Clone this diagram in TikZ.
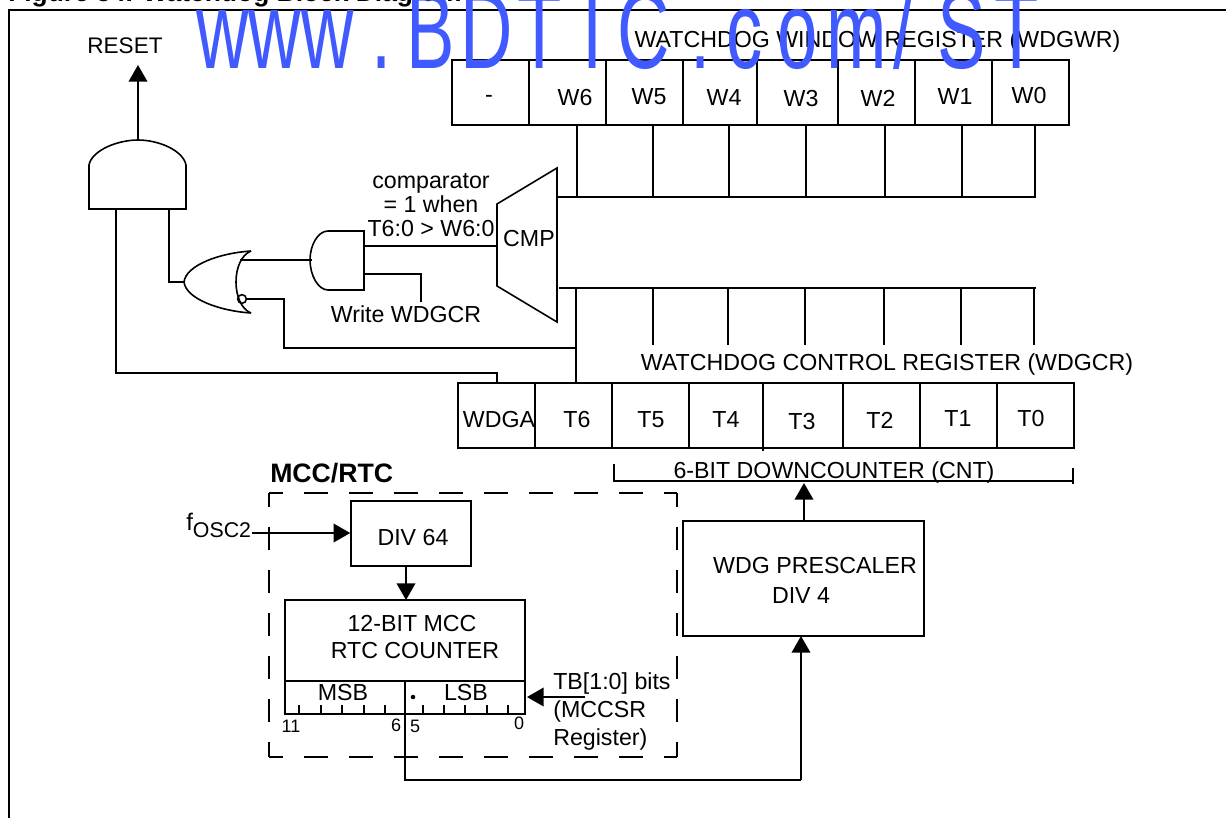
\documentclass[tikz,border=0pt]{standalone}
\usepackage{fontspec}
\setmainfont{Liberation Sans}
\usetikzlibrary{arrows.meta}
\definecolor{wm}{RGB}{64,90,255}
\newcommand\kk[1]{\kern\dimexpr #1pt*1103/1000\relax}
\tikzset{
  ln/.style={line width=1.2pt,line cap=butt,line join=miter},
  lbl/.style={inner sep=0pt,font=\fontsize{17.4pt}{20pt}\selectfont,align=center},
  tiny/.style={inner sep=0pt,font=\fontsize{13.5pt}{16pt}\selectfont},
  arr/.style={ln,-{Triangle[length=12.5pt,width=14pt]}},
  boxn/.style={ln,draw,inner sep=0pt},
  dashh/.style={ln,dash pattern=on 18pt off 15.75pt,dash phase=7.5pt},
  dashv/.style={ln,dash pattern=on 17.25pt off 15pt,dash phase=6.75pt},
}
\begin{document}
\begin{tikzpicture}[x=0.75pt,y=-0.75pt]
\useasboundingbox (0,0) rectangle (1226,818);
\clip (0,0) rectangle (1226,818);
\node[anchor=base west,inner sep=0pt,font=\bfseries\fontsize{19.8pt}{22pt}\selectfont] (title) at (8,1.5) {Figure 54. Watchdog Block Diagram};
\draw[ln] (9,818) -- (9,10) -- (1226,10);
% labels
\node[lbl,font=\fontsize{16.9pt}{20pt}\selectfont] (resetl) at (125,46) {RESET};
\node[lbl] (wwrl) at (877.5,41) {WATCHDOG WINDOW REGISTER (WDGWR)};
\node[lbl] (wcrl) at (887,364) {WATCHDOG CONTROL REGISTER (WDGCR)};
% window register
\draw[ln] (452,60) rectangle (1069,125);
\foreach \x in {529,606,683,757,838,915,992} \draw[ln] (\x,60) -- (\x,125);
\foreach \t/\x/\y in {-/489/99,W6/575/98,W5/649/97,W4/724/98,W3/801/99,W2/878/98,W1/955/97,W0/1029/96}
  \node[lbl] at (\x,\y) {\t};
\foreach \x in {577,653,729,806,885,962,1035} \draw[ln] (\x,125) -- (\x,198);
\draw[ln] (558,197) -- (1035,197);
% CMP
\coordinate (cmpTL) at (497,204);
\coordinate (cmpTR) at (557,168);
\coordinate (cmpBR) at (557,322);
\coordinate (cmpBL) at (497,286);
\coordinate (cmpIn) at (497,246);
\draw[ln] (cmpTL) -- (cmpTR) -- (cmpBR) -- (cmpBL) -- cycle;
\node[lbl] (cmp) at (529,239) {CMP};
\node[lbl] (cmpnote) at (431,205) {comparator\\[-2pt]= 1 when\\[-2pt]T6:0 > W6:0};
\draw[ln] (559,288) -- (1036,288);
\foreach \x in {653,728,805,884,961,1034} \draw[ln] (\x,288) -- (\x,345);
\draw[ln] (576,288) -- (576,383);
% control register
\draw[ln] (458,383) rectangle (1074,448);
\foreach \x in {535,612,689,843,920,997} \draw[ln] (\x,383) -- (\x,448);
\draw[ln] (763,383) -- (763,451);
\foreach \t/\x/\y in {WDGA/499/420,T6/577/420,T5/651/420,T4/726/420,T3/802/422,T2/880/420,T1/958/419,T0/1031/419}
  \node[lbl] at (\x,\y) {\t};
% downcounter bracket
\node[lbl] (cnt) at (834,472) {6-BIT DOWNCOUNTER (CNT)};
\draw[ln] (614,464) -- (614,481) -- (1073,481);
\draw[ln] (1073,468) -- (1073,484);
% reset AND gate
\coordinate (andTop) at (138,140);
\draw[ln] (89,209) -- (89,165) .. controls (92,150) and (118,140) .. (andTop) .. controls (158,140) and (183,150) .. (186,165) -- (186,209) -- cycle;
\coordinate (resetTip) at (138,65);
\draw[arr] (andTop) -- (resetTip);
% NOR gate
\coordinate (norIn) at (184,282);
\draw[ln] (251,251) .. controls (220,253) and (186,265) .. (norIn) .. controls (186,299) and (220,311) .. (251,313);
\draw[ln] (251,251) .. controls (231,259) and (231,305) .. (251,313);
\node[draw,circle,ln,minimum size=6.5pt,inner sep=0pt] (bub) at (242,299) {};
% small AND gate
\draw[ln] (328,231) -- (364,231) -- (364,290) -- (328,290) .. controls (318,290) and (310,275) .. (310,260) .. controls (310,245) and (318,231) .. (328,231);
\coordinate (wrEnd) at (421,302);
% wires
\draw[ln] (240,260) -- (312,260);
\draw[ln] (364,246) -- (cmpIn);
\draw[ln] (364,274) -| (wrEnd);
\node[lbl] (wrl) at (406,314) {Write WDGCR};
\draw[ln] (bub.east) -- (284,299) |- (576,348);
\draw[ln] (169,209) |- (norIn);
\draw[ln] (116,209) -- (116,373);
\draw[ln] (115,373) -| (497,383);
% MCC/RTC
\node[anchor=west,inner sep=0pt,font=\bfseries\fontsize{20pt}{22pt}\selectfont] (mcc) at (270,473) {MCC/RTC};
\draw[dashh] (269,493) -- (677,493);
\draw[dashh] (269,757) -- (677,757);
\draw[dashv] (269,493) -- (269,757);
\draw[dashv] (677,493) -- (677,757);
\node[anchor=base west,inner sep=0pt,font=\fontsize{18pt}{20pt}\selectfont] (fosc) at (186,530) {f\raisebox{-5.25pt}{\fontsize{16pt}{18pt}\selectfont OSC2}};
\node[boxn,minimum width=90pt,minimum height=48.75pt] (div) at (411,533.5) {};
\node[lbl] at (413,538) {DIV 64};
\node[boxn,minimum width=180pt,minimum height=85.5pt] (ctr) at (405,657) {};
\node[lbl] at (412,623) {12-BIT MCC};
\node[lbl] at (415,650) {RTC COUNTER};
\draw[ln] (285,681) -- (525,681);
\draw[ln] (405,681) -- (405,780) -- (801,780);
\foreach \x in {299,321,342,364,385,423,444,465,487,508} \draw[ln,line width=0.9pt] (\x,714) -- (\x,705);
\node[lbl] at (343,692) {MSB};
\node[lbl] at (466,692) {LSB};
\fill (413,697) circle (1.7pt);
\node[tiny] at (291,726) {11};
\node[tiny] at (396,725) {6};
\node[tiny] at (415,726) {5};
\node[tiny] at (519,723) {0};
\node[lbl,align=left,anchor=north west] (tb) at (553,672.5) {TB[1:0] bits\\[1pt](MCCSR\\[1pt]Register)};
\coordinate (tbTail) at (585,697);
\coordinate (tbTip) at (527,697);
\draw[arr] (tbTail) -- (tbTip);
\draw[arr] (252,533) -- (div.west |- 0,533);
\coordinate (divOut) at (406,566);
\coordinate (ctrIn) at (406,600);
\draw[arr] (divOut) -- (ctrIn);
% prescaler
\node[boxn,minimum width=180.75pt,minimum height=86.25pt] (pre) at (803.5,578.5) {};
\node[lbl] at (815,566) {WDG PRESCALER};
\node[lbl] at (801,596) {DIV 4};
\coordinate (cntTip) at (804,483);
\draw[arr] (cntTip |- pre.north) -- (cntTip);
\draw[arr] (801,780) -- (801,636);
% watermark
\node[anchor=base west,inner sep=0pt,text=wm,font=\fontsize{80pt}{90pt}\selectfont] (wmark) at (196,68) {\scalebox{0.68}[1.03]{www\kk{18}.\kk{15}B\kk{6}D\kk{4}T\kk{21}I\kk{15}C\kk{20}.\kk{16}c\kk{15}o\kk{9}m\kk{6}/\kk{24}S\kk{9}T}};
\end{tikzpicture}
\end{document}
